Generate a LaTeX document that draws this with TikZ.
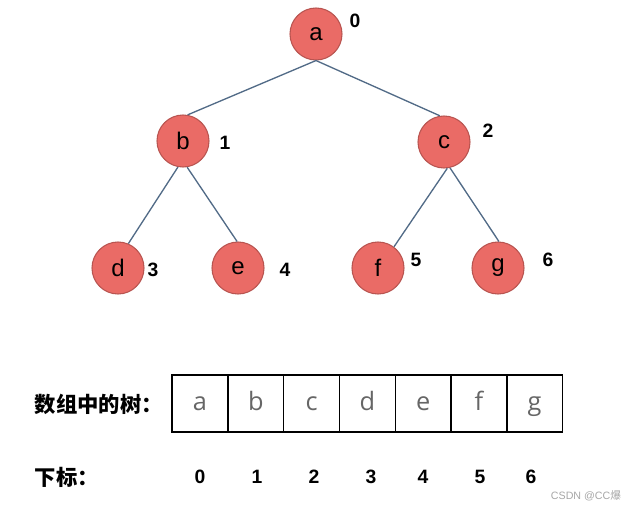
\documentclass[tikz,border=0pt]{standalone}
\usepackage{fontspec}
\setmainfont{Liberation Sans}
\newfontfamily\cellfont{Open Sans}
\newfontfamily\cjk{Noto Sans CJK SC}
\definecolor{nodefill}{HTML}{EA6B66}
\definecolor{nodeline}{HTML}{B85450}
\definecolor{edgeline}{HTML}{526B87}
\definecolor{cellgray}{HTML}{666666}
\tikzset{
	vertex/.style = {
		shape=circle,
		draw=nodeline,
		line width=0.8pt,
		fill=nodefill,
		minimum size=39pt,
		inner sep=0pt,
		font=\fontsize{18}{20}\selectfont
	},
	idx/.style = {
		font=\fontsize{14.5}{16}\selectfont\bfseries
	},
	cell/.style = {
		shape=rectangle,
		draw,
		line width=1pt,
		minimum width=41.85pt,
		minimum height=42.75pt,
		text height=10pt,
		text depth=0pt,
		inner sep=0pt,
		outer sep=0pt,
		text=cellgray,
		font=\cellfont\fontsize{19}{21}\selectfont
	},
	caption/.style = {
		anchor=west,
		font=\cjk\bfseries\fontsize{16}{18}\selectfont
	},
	edge/.style = {
		draw=edgeline,
		line width=1pt
	}
}
\begin{document}
\begin{tikzpicture}[x=0.75pt,y=-0.75pt]
		\useasboundingbox (0,0) rectangle (634,511);
		% tree
		\node[vertex] (a) at (316,34) {a};
		\node[vertex] (b) at (183,141) {b};
		\node[vertex] (c) at (444,142) {c};
		\node[vertex] (d) at (118,268) {d};
		\node[vertex] (e) at (238,268) {e};
		\node[vertex] (f) at (378,268) {f};
		\node[vertex] (g) at (498,268) {g};
		\draw[edge] (a.south) -- (b.80);
		\draw[edge] (a.south) -- (c.99);
		\draw[edge] (b.259) -- (d.67);
		\draw[edge] (b.279) -- (e.92);
		\draw[edge] (c.277) -- (f.53);
		\draw[edge] (c.283) -- (g.88);
		% indices beside the tree
		\node[idx] (ia) at (355,21) {0};
		\node[idx] (ib) at (225,143) {1};
		\node[idx] (ic) at (488,131) {2};
		\node[idx] (id) at (153,270) {3};
		\node[idx] (ie) at (285,270) {4};
		\node[idx] (if) at (416,260) {5};
		\node[idx] (ig) at (548,260) {6};
		% array
		\node[caption] (arr) at (30,404) {数组中的树：};
		\node[cell] (c0) at (200,403.5) {a};
		\node[cell] (c1) at (255.8,403.5) {b};
		\node[cell] (c2) at (311.6,403.5) {c};
		\node[cell] (c3) at (367.4,403.5) {d};
		\node[cell] (c4) at (423.2,403.5) {e};
		\node[cell] (c5) at (479,403.5) {f};
		\node[cell] (c6) at (534.6,403.5) {g};
		\node[caption] (sub) at (30,477) {下标：};
		\node[idx] (n0) at (200,477) {0};
		\node[idx] (n1) at (257,477) {1};
		\node[idx] (n2) at (314,477) {2};
		\node[idx] (n3) at (371,477) {3};
		\node[idx] (n4) at (423,477) {4};
		\node[idx] (n5) at (480,477) {5};
		\node[idx] (n6) at (531,477) {6};
		\node[text=gray!70, font=\fontsize{8}{9}\selectfont] (mark) at (586,496) {CSDN @CC\cjk 爆};
\end{tikzpicture}
\end{document}
